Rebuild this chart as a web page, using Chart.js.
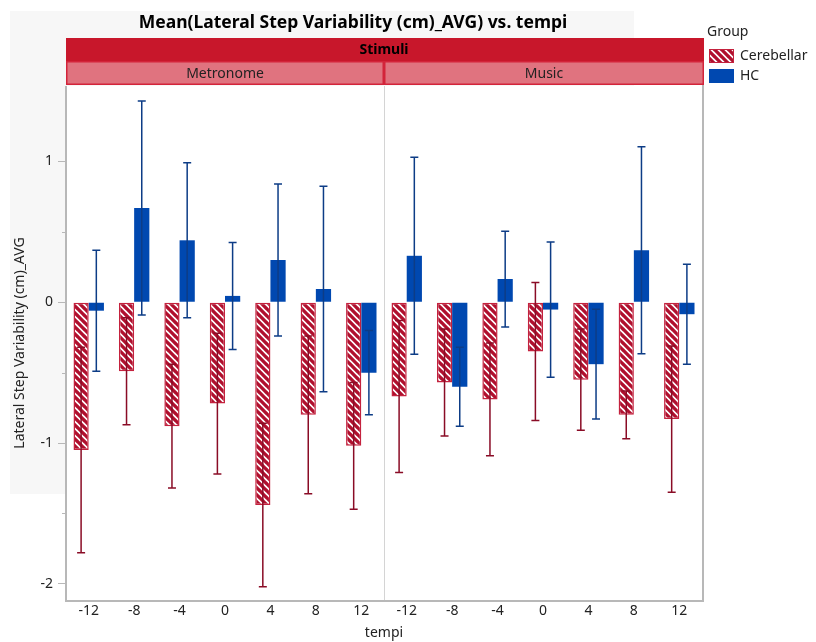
<!DOCTYPE html>
<html>
<head>
<meta charset="utf-8">
<script src="https://cdn.jsdelivr.net/npm/chart.js@4"></script>
<style>
  html, body { margin: 0; padding: 0; background: #fff; }
  #wrap { width: 816px; height: 642px; position: relative; }
</style>
</head>
<body>
<div id="wrap"><canvas id="chart" width="816" height="642"></canvas></div>
<script>
// data
const tempi = ['-12', '-8', '-4', '0', '4', '8', '12'];
const stimuli = ['Metronome', 'Music'];
const groups = ['Cerebellar', 'HC'];

const cerebellarMetronome = [-1.05, -0.49, -0.88, -0.72, -1.44, -0.80, -1.02];
const cerebellarMusic     = [-0.67, -0.57, -0.69, -0.35, -0.55, -0.80, -0.83];
const cerebellarMetronomeErr = [0.73, 0.38, 0.44, 0.50, 0.58, 0.56, 0.45];
const cerebellarMusicErr     = [0.54, 0.38, 0.40, 0.49, 0.36, 0.17, 0.52];

const hcMetronome = [-0.06, 0.67, 0.44, 0.045, 0.30, 0.094, -0.50];
const hcMusic     = [0.33, -0.60, 0.165, -0.052, -0.44, 0.37, -0.085];
const hcMetronomeErr = [0.43, 0.76, 0.55, 0.38, 0.54, 0.73, 0.30];
const hcMusicErr     = [0.70, 0.28, 0.34, 0.48, 0.39, 0.735, 0.355];

const yMajorTicks = [-2, -1, 0, 1];
const yMinorTicks = [-1.5, -0.5, 0.5];

const FONT = "'Noto Sans', 'Open Sans', sans-serif";
const RED = '#c8172b';
const RED_LIGHT = '#e0737f';
const STRIPE = '#b0102e';
const BLUE = '#0048b0';

const labels = [...tempi, ...tempi];
const errors = [
  [...cerebellarMetronomeErr, ...cerebellarMusicErr],
  [...hcMetronomeErr, ...hcMusicErr]
];

function hatch() {
  const s = 7;
  const c = document.createElement('canvas');
  c.width = s; c.height = s;
  const g = c.getContext('2d');
  g.fillStyle = '#fff';
  g.fillRect(0, 0, s, s);
  g.strokeStyle = STRIPE;
  g.lineWidth = 3.3;
  g.beginPath();
  g.moveTo(-1, -1); g.lineTo(s + 1, s + 1);
  g.moveTo(-s - 1, -1); g.lineTo(1, s + 1);
  g.moveTo(-1, -s - 1); g.lineTo(s + 1, 1);
  g.stroke();
  return g.createPattern(c, 'repeat');
}

const ctx = document.getElementById('chart').getContext('2d');
const pattern = hatch();

const decor = {
  id: 'decor',
  beforeDraw(chart) {
    const { ctx, chartArea: a } = chart;
    ctx.save();
    ctx.fillStyle = '#f7f7f7';
    ctx.fillRect(10, 11, 624, 483);
    ctx.fillStyle = '#fff';
    ctx.fillRect(a.left, a.top, a.right - a.left, a.bottom - a.top);
    ctx.restore();
  },
  beforeDatasetsDraw(chart) {
    const { ctx, chartArea: a, scales } = chart;
    const mid = scales.x.getPixelForValue(tempi.length - 0.5);
    ctx.save();
    ctx.strokeStyle = '#d4d4d4';
    ctx.lineWidth = 1;
    ctx.beginPath();
    ctx.moveTo(Math.round(mid) + 0.5, a.top);
    ctx.lineTo(Math.round(mid) + 0.5, a.bottom);
    ctx.stroke();
    ctx.restore();
  },
  afterDatasetsDraw(chart) {
    const { ctx, scales } = chart;
    const colors = ['#8a0c26', '#0d3c86'];
    chart.data.datasets.forEach((ds, di) => {
      const meta = chart.getDatasetMeta(di);
      ctx.save();
      ctx.strokeStyle = colors[di];
      ctx.lineWidth = 1.5;
      meta.data.forEach((bar, i) => {
        const v = ds.data[i], e = errors[di][i];
        const y1 = scales.y.getPixelForValue(v + e);
        const y2 = scales.y.getPixelForValue(v - e);
        ctx.beginPath();
        ctx.moveTo(bar.x, y1); ctx.lineTo(bar.x, y2);
        ctx.moveTo(bar.x - 4, y1); ctx.lineTo(bar.x + 4, y1);
        ctx.moveTo(bar.x - 4, y2); ctx.lineTo(bar.x + 4, y2);
        ctx.stroke();
      });
      ctx.restore();
    });
  },
  afterDraw(chart) {
    const { ctx, chartArea: a, scales } = chart;
    const mid = scales.x.getPixelForValue(tempi.length - 0.5);
    ctx.save();
    // frame
    ctx.strokeStyle = '#b8b8b8';
    ctx.lineWidth = 2;
    ctx.beginPath();
    ctx.moveTo(a.left, a.top); ctx.lineTo(a.left, a.bottom + 1);
    ctx.lineTo(a.right + 1, a.bottom + 1); ctx.lineTo(a.right + 1, a.top - 2);
    ctx.stroke();
    // minor ticks
    ctx.lineWidth = 1;
    ctx.strokeStyle = '#b8b8b8';
    yMinorTicks.forEach(t => {
      const y = Math.round(scales.y.getPixelForValue(t)) + 0.5;
      ctx.beginPath(); ctx.moveTo(a.left - 4, y); ctx.lineTo(a.left, y); ctx.stroke();
    });

    // strip headers
    const top = 38, h1 = 23, h2 = 24;
    ctx.fillStyle = RED;
    ctx.fillRect(a.left, top, a.right - a.left + 2, h1);
    ctx.fillStyle = '#000';
    ctx.font = 'bold 14px ' + FONT;
    ctx.textAlign = 'center';
    ctx.textBaseline = 'middle';
    ctx.fillText('Stimuli', (a.left + a.right) / 2, top + h1 / 2 + 1);

    const panels = [[a.left, mid], [mid, a.right + 2]];
    panels.forEach(([l, r], i) => {
      ctx.fillStyle = RED_LIGHT;
      ctx.fillRect(l, top + h1, r - l, h2);
      ctx.strokeStyle = '#d3243a';
      ctx.lineWidth = 1.5;
      ctx.strokeRect(l + 0.75, top + h1 + 0.75, r - l - 1.5, h2 - 1.5);
      ctx.fillStyle = '#222';
      ctx.font = '14px ' + FONT;
      ctx.fillText(stimuli[i], (l + r) / 2, top + h1 + h2 / 2 + 1);
    });

    // title
    ctx.fillStyle = '#000';
    ctx.font = 'bold 17.5px ' + FONT;
    ctx.fillText('Mean(Lateral Step Variability (cm)_AVG) vs. tempi', 353, 23);

    // legend
    ctx.textAlign = 'left';
    ctx.font = '14px ' + FONT;
    ctx.fillStyle = '#222';
    ctx.fillText('Group', 707, 32);
    ctx.fillStyle = pattern;
    ctx.fillRect(709, 49, 25, 14);
    ctx.strokeStyle = '#c4223e';
    ctx.lineWidth = 1;
    ctx.strokeRect(709.5, 49.5, 24, 13);
    ctx.fillStyle = BLUE;
    ctx.fillRect(709, 69, 25, 14);
    ctx.fillStyle = '#222';
    ctx.fillText(groups[0], 740, 56);
    ctx.fillText(groups[1], 740, 76);
    ctx.restore();
  }
};

new Chart(ctx, {
  type: 'bar',
  data: {
    labels,
    datasets: [
      {
        label: groups[0],
        data: [...cerebellarMetronome, ...cerebellarMusic],
        backgroundColor: pattern,
        borderColor: '#c4223e',
        borderWidth: 1.5,
        borderSkipped: false,
        barPercentage: 1,
        categoryPercentage: 0.67
      },
      {
        label: groups[1],
        data: [...hcMetronome, ...hcMusic],
        backgroundColor: BLUE,
        borderWidth: 0,
        barPercentage: 1,
        categoryPercentage: 0.67
      }
    ]
  },
  options: {
    responsive: false,
    animation: false,
    layout: { padding: { top: 86, right: 114, left: 0, bottom: 0 } },
    plugins: {
      legend: { display: false },
      tooltip: { enabled: false }
    },
    scales: {
      x: {
        grid: { display: false },
        border: { display: false },
        ticks: { color: '#222', font: { family: FONT, size: 14 }, padding: -5, maxRotation: 0, autoSkip: false },
        title: { display: true, text: 'tempi', color: '#222', font: { family: FONT, size: 14 }, padding: { top: 0, bottom: 1 } },
        afterFit: s => { s.height = 42; }
      },
      y: {
        min: -2.115,
        max: 1.536,
        afterBuildTicks: s => { s.ticks = yMajorTicks.map(v => ({ value: v })); },
        grid: { drawOnChartArea: false, tickLength: 8, color: '#b8b8b8' },
        border: { display: false },
        ticks: { color: '#222', font: { family: FONT, size: 14 }, padding: 5 },
        title: { display: true, text: 'Lateral Step Variability (cm)_AVG', color: '#222', font: { family: FONT, size: 14 }, padding: { top: 12, bottom: 0 } },
        afterFit: s => { s.width = 66; }
      }
    }
  },
  plugins: [decor]
});
</script>
</body>
</html>
